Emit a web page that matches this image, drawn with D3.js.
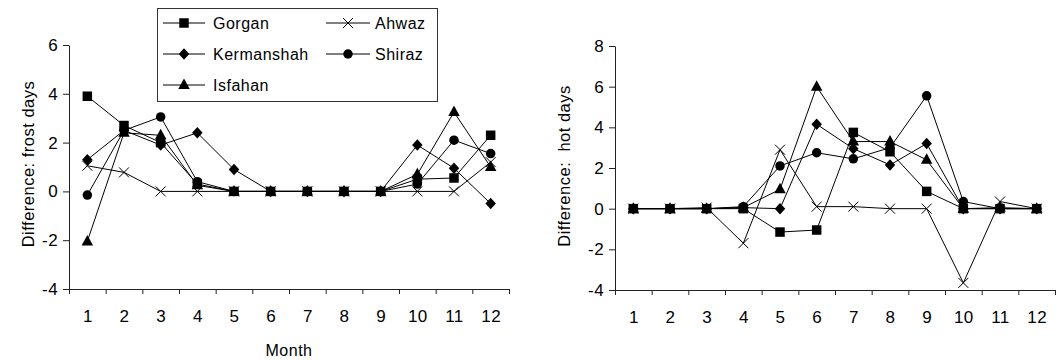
<!DOCTYPE html>
<html>
<head>
<meta charset="utf-8">
<script src="https://cdn.jsdelivr.net/npm/d3@7"></script>
<style>
  html, body { margin: 0; padding: 0; background: #fff; }
  svg { display: block; font-family: "Liberation Sans", Arial, sans-serif; }
  text { fill: #000; }
</style>
</head>
<body>
<svg id="chart" width="1058" height="360"></svg>
<script>
// Months on the x axis
const months = [1, 2, 3, 4, 5, 6, 7, 8, 9, 10, 11, 12];

// Stations (legend order) and their marker shapes
const stations = ["Gorgan", "Ahwaz", "Kermanshah", "Shiraz", "Isfahan"];
const markers = ["square", "cross", "diamond", "circle", "triangle"];

// Change in number of frost days per month
const frostGorgan     = [3.9, 2.7, 2.0, 0.3, 0, 0, 0, 0, 0, 0.5, 0.55, 2.3];
const frostAhwaz      = [1.05, 0.78, 0, 0, 0, 0, 0, 0, 0, 0, 0, 1.2];
const frostKermanshah = [1.3, 2.5, 1.9, 2.4, 0.9, 0, 0, 0, 0, 1.9, 0.95, -0.5];
const frostShiraz     = [-0.15, 2.5, 3.05, 0.4, 0, 0, 0, 0, 0, 0.3, 2.1, 1.55];
const frostIsfahan    = [-2.05, 2.4, 2.3, 0.25, 0, 0, 0, 0, 0, 0.7, 3.25, 1.0];

// Change in number of hot days per month
const hotGorgan     = [0, 0, 0, 0, -1.15, -1.05, 3.75, 2.8, 0.85, 0, 0, 0];
const hotAhwaz      = [0, 0, 0.05, -1.7, 2.9, 0.1, 0.1, 0, 0, -3.65, 0.35, 0];
const hotKermanshah = [0, 0, 0, 0.05, 0, 4.15, 2.95, 2.15, 3.2, 0, 0, 0];
const hotShiraz     = [0, 0, 0, 0.1, 2.1, 2.75, 2.45, 3.0, 5.55, 0.35, 0, 0];
const hotIsfahan    = [0, 0, 0, 0.05, 0.95, 6.0, 3.3, 3.3, 2.4, 0, 0.05, 0];

// Y axis tick values
const frostTicks = [-4, -2, 0, 2, 4, 6];
const hotTicks = [-4, -2, 0, 2, 4, 6, 8];

const svg = d3.select("#chart");
const plainNumber = d => String(d);   // hyphen-minus, as in the printed figure

// Marker drawing for each shape type
function drawMarker(g, shape, x, y) {
  if (shape === "square") {
    g.append("rect").attr("x", x - 4.75).attr("y", y - 4.75)
      .attr("width", 9.5).attr("height", 9.5).attr("fill", "#000");
  } else if (shape === "diamond") {
    g.append("path").attr("d", `M${x},${y - 5.75}L${x + 5.25},${y}L${x},${y + 5.75}L${x - 5.25},${y}Z`)
      .attr("fill", "#000");
  } else if (shape === "circle") {
    g.append("circle").attr("cx", x).attr("cy", y).attr("r", 4.75).attr("fill", "#000");
  } else if (shape === "triangle") {
    g.append("path").attr("d", `M${x},${y - 6.5}L${x + 5.75},${y + 4}L${x - 5.75},${y + 4}Z`)
      .attr("fill", "#000");
  } else if (shape === "cross") {
    g.append("path").attr("d", `M${x - 5},${y - 5}L${x + 5},${y + 5}M${x - 5},${y + 5}L${x + 5},${y - 5}`)
      .attr("stroke", "#000").attr("stroke-width", 1).attr("fill", "none");
  }
}

function styleTick(sel) {
  sel.attr("font-size", 17).attr("letter-spacing", 0.4)
    .attr("font-family", "Liberation Sans, Arial, sans-serif").attr("fill", "#000");
}

function panel(opts) {
  const { left, right, top, bottom, domain, ticks, series, title, titleX, titleY, showMonth } = opts;
  const g = svg.append("g");

  const x = d3.scaleLinear().domain([0.5, 12.5]).range([left, right]);
  const y = d3.scaleLinear().domain(domain).range([bottom, top]);

  // Y axis
  const yAxis = g.append("g").attr("transform", `translate(${left},0)`)
    .call(d3.axisLeft(y).tickValues(ticks).tickFormat(plainNumber)
      .tickSize(6).tickPadding(5).tickSizeOuter(0));
  yAxis.select(".domain").attr("stroke", "#222");
  yAxis.selectAll(".tick line").attr("stroke", "#222");
  styleTick(yAxis.selectAll("text"));

  // X axis: boundary ticks
  const xAxis = g.append("g").attr("transform", `translate(0,${bottom})`)
    .call(d3.axisBottom(x).tickValues(d3.range(0.5, 12.6, 1)).tickFormat("").tickSize(5).tickSizeOuter(0));
  xAxis.select(".domain").attr("stroke", "#222");
  xAxis.selectAll(".tick line").attr("stroke", "#222");

  // X axis: month labels centred in each slot
  const xLabels = g.append("g").attr("transform", `translate(0,${bottom})`)
    .call(d3.axisBottom(x).tickValues(months).tickFormat(plainNumber).tickSize(0).tickPadding(21));
  xLabels.select(".domain").remove();
  styleTick(xLabels.selectAll("text"));

  // Y axis title
  g.append("text")
    .attr("transform", `translate(${titleX},${titleY}) rotate(-90)`)
    .attr("text-anchor", "middle")
    .attr("font-size", 16.5).attr("letter-spacing", 0.5)
    .style("white-space", "pre")
    .text(title);

  if (showMonth) {
    g.append("text")
      .attr("x", (left + right) / 2).attr("y", 356)
      .attr("text-anchor", "middle")
      .attr("font-size", 16).attr("letter-spacing", 0.5)
      .text("Month");
  }

  // Lines and markers
  const line = d3.line().x((d, i) => x(months[i])).y(d => y(d));
  series.forEach(vals => {
    g.append("path").attr("d", line(vals))
      .attr("fill", "none").attr("stroke", "#000").attr("stroke-width", 1);
  });
  series.forEach((vals, k) => {
    const mg = g.append("g");
    vals.forEach((v, i) => drawMarker(mg, markers[k], x(months[i]), y(v)));
  });
}

panel({
  left: 69, right: 509, top: 45, bottom: 289,
  domain: [-4, 6], ticks: frostTicks,
  series: [frostGorgan, frostAhwaz, frostKermanshah, frostShiraz, frostIsfahan],
  title: "Difference: frost days", titleX: 34, titleY: 164, showMonth: true
});

panel({
  left: 615, right: 1055, top: 46, bottom: 290,
  domain: [-4, 8], ticks: hotTicks,
  series: [hotGorgan, hotAhwaz, hotKermanshah, hotShiraz, hotIsfahan],
  title: "Difference:  hot days", titleX: 570, titleY: 166, showMonth: false
});

// Legend
const lg = svg.append("g");
lg.append("rect").attr("x", 157.5).attr("y", 8.5).attr("width", 280).attr("height", 93)
  .attr("fill", "#fff").attr("stroke", "#333").attr("stroke-width", 1);
const legendCols = [{ x1: 163, x2: 205, tx: 213 }, { x1: 326, x2: 370, tx: 375 }];
const legendRows = [23, 54, 85];
stations.forEach((name, k) => {
  const col = legendCols[k % 2];
  const ry = legendRows[Math.floor(k / 2)];
  lg.append("line").attr("x1", col.x1).attr("x2", col.x2).attr("y1", ry).attr("y2", ry)
    .attr("stroke", "#000").attr("stroke-width", 1);
  drawMarker(lg, markers[k], (col.x1 + col.x2) / 2, ry);
  lg.append("text").attr("x", col.tx).attr("y", ry).attr("dy", "0.35em")
    .attr("font-size", 16).attr("letter-spacing", 0.5).text(name);
});
</script>
</body>
</html>
